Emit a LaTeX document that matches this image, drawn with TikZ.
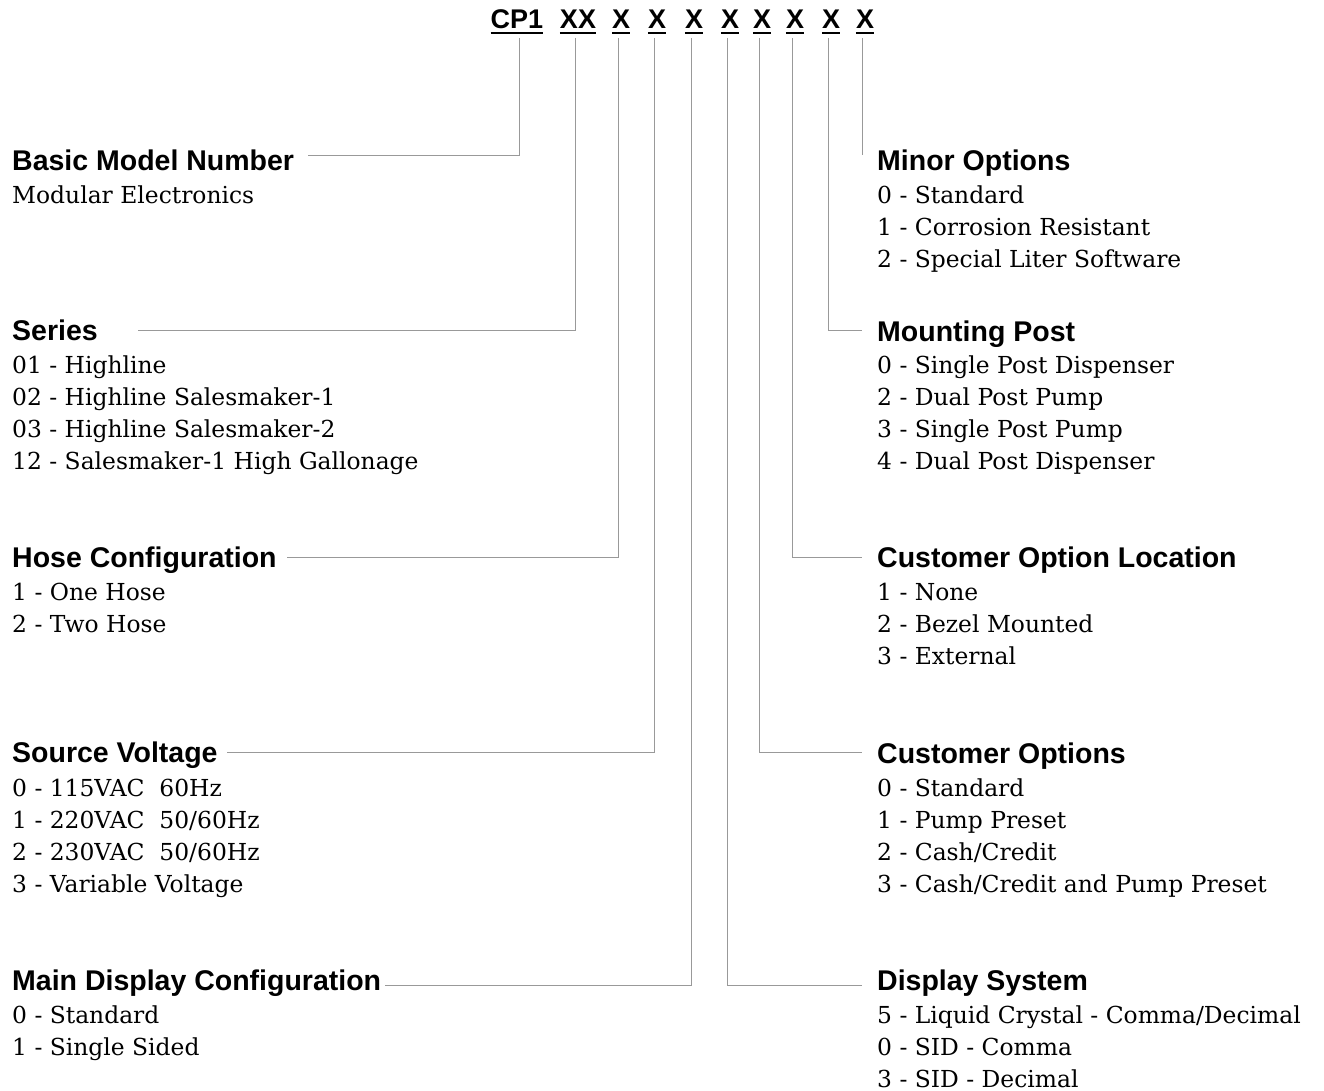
\documentclass[tikz,border=0pt]{standalone}
\usepackage{fontspec}
\setmainfont{DejaVu Serif}
\newfontfamily\hfont{Liberation Sans}
\begin{document}
\begin{tikzpicture}[x=1pt,y=-1pt,
  conn/.style={draw=black!40, line width=0.8pt},
  hd/.style={anchor=base west, inner sep=0, font=\hfont\bfseries\fontsize{28.5}{30}\selectfont},
  it/.style={anchor=base west, inner sep=0, font=\fontsize{23.4}{26}\selectfont},
  fld/.style={anchor=base, inner sep=0, font=\hfont\bfseries\fontsize{27}{28}\selectfont},
  ul/.style={line width=1.8pt}]
\useasboundingbox (0,0) rectangle (1324,1091);
% header fields
\node[fld] (f1) at (517,29) {CP1};
\node[fld] (f2) at (578,29) {XX};
\node[fld] (f3) at (621,29) {X};
\node[fld] (f4) at (657,29) {X};
\node[fld] (f5) at (694,29) {X};
\node[fld] (f6) at (730,29) {X};
\node[fld] (f7) at (762,29) {X};
\node[fld] (f8) at (795,29) {X};
\node[fld] (f9) at (831,29) {X};
\node[fld] (f10) at (865,29) {X};
\foreach \f in {f1,f2,f3,f4,f5,f6,f7,f8,f9,f10}
  \draw[ul] ([yshift=-4]\f.base west) -- ([yshift=-4]\f.base east);
% connector ends
\coordinate (e1) at (308,155);
\coordinate (e2) at (138,330);
\coordinate (e3) at (287,557);
\coordinate (e4) at (227,752);
\coordinate (e5) at (385,985);
\coordinate (e6) at (862,985);
\coordinate (e7) at (862,752);
\coordinate (e8) at (862,557);
\coordinate (e9) at (862,330);
\coordinate (e10) at (862,155);
\draw[conn] ([xshift=2,yshift=-9]f1.base) |- (e1);
\draw[conn] ([xshift=-3,yshift=-9]f2.base) |- (e2);
\draw[conn] ([xshift=-3,yshift=-9]f3.base) |- (e3);
\draw[conn] ([xshift=-3,yshift=-9]f4.base) |- (e4);
\draw[conn] ([xshift=-3,yshift=-9]f5.base) |- (e5);
\draw[conn] ([xshift=-3,yshift=-9]f6.base) |- (e6);
\draw[conn] ([xshift=-3,yshift=-9]f7.base) |- (e7);
\draw[conn] ([xshift=-3,yshift=-9]f8.base) |- (e8);
\draw[conn] ([xshift=-3,yshift=-9]f9.base) |- (e9);
\draw[conn] ([xshift=-3,yshift=-9]f10.base) |- (e10);
% left column
\node[hd] (hA) at (12,171) {Basic Model Number};
\node[it] (iA1) at (12,204) {Modular Electronics};
\node[hd] (hB) at (12,340) {Series};
\node[it] (iB1) at (12,373) {01 - Highline};
\node[it] (iB2) at (12,405) {02 - Highline Salesmaker-1};
\node[it] (iB3) at (12,437) {03 - Highline Salesmaker-2};
\node[it] (iB4) at (12,469) {12 - Salesmaker-1 High Gallonage};
\node[hd] (hC) at (12,567) {Hose Configuration};
\node[it] (iC1) at (12,600) {1 - One Hose};
\node[it] (iC2) at (12,632) {2 - Two Hose};
\node[hd] (hD) at (12,762) {Source Voltage};
\node[it] (iD1) at (12,796) {0 - 115VAC~~60Hz};
\node[it] (iD2) at (12,828) {1 - 220VAC~~50/60Hz};
\node[it] (iD3) at (12,860) {2 - 230VAC~~50/60Hz};
\node[it] (iD4) at (12,892) {3 - Variable Voltage};
\node[hd] (hE) at (12,990) {Main Display Configuration};
\node[it] (iE1) at (12,1023) {0 - Standard};
\node[it] (iE2) at (12,1055) {1 - Single Sided};
% right column
\node[hd] (hF) at (877,171) {Minor Options};
\node[it] (iF1) at (877,204) {0 - Standard};
\node[it] (iF2) at (877,236) {1 - Corrosion Resistant};
\node[it] (iF3) at (877,268) {2 - Special Liter Software};
\node[hd] (hG) at (877,341) {Mounting Post};
\node[it] (iG1) at (877,373) {0 - Single Post Dispenser};
\node[it] (iG2) at (877,405) {2 - Dual Post Pump};
\node[it] (iG3) at (877,437) {3 - Single Post Pump};
\node[it] (iG4) at (877,469) {4 - Dual Post Dispenser};
\node[hd] (hH) at (877,567) {Customer Option Location};
\node[it] (iH1) at (877,600) {1 - None};
\node[it] (iH2) at (877,632) {2 - Bezel Mounted};
\node[it] (iH3) at (877,664) {3 - External};
\node[hd] (hI) at (877,763) {Customer Options};
\node[it] (iI1) at (877,796) {0 - Standard};
\node[it] (iI2) at (877,828) {1 - Pump Preset};
\node[it] (iI3) at (877,860) {2 - Cash/Credit};
\node[it] (iI4) at (877,892) {3 - Cash/Credit and Pump Preset};
\node[hd] (hJ) at (877,990) {Display System};
\node[it] (iJ1) at (877,1023) {5 - Liquid Crystal - Comma/Decimal};
\node[it] (iJ2) at (877,1055) {0 - SID - Comma};
\node[it] (iJ3) at (877,1087) {3 - SID - Decimal};
\end{tikzpicture}
\end{document}
